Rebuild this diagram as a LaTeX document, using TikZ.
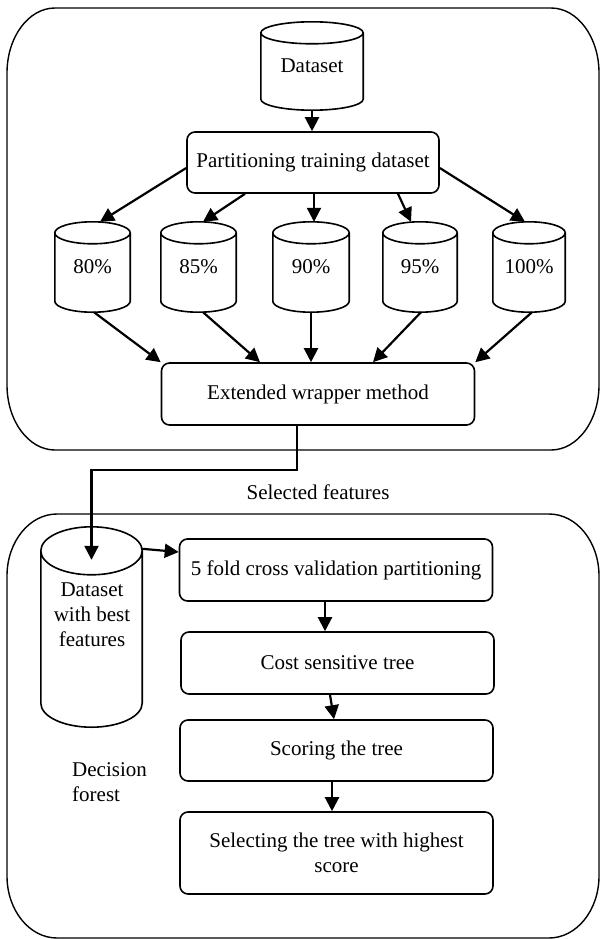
\documentclass[tikz,border=0pt]{standalone}
\usepackage{fontspec}
\setmainfont{Liberation Serif}
\usetikzlibrary{calc,arrows.meta}
\newcommand\cylshape[2]{%
  \draw[cylline] let \p1=(#1.north west), \p2=(#1.south east), \n1={(\x2-\x1)/2} in
   (\x1,\y1-#2pt) -- (\x1,\y2+#2pt)
   arc[start angle=180,end angle=360,x radius=\n1,y radius=#2pt]
   -- (\x2,\y1-#2pt)
   arc[start angle=0,end angle=180,x radius=\n1,y radius=#2pt]
   arc[start angle=180,end angle=360,x radius=\n1,y radius=#2pt];}
\begin{document}
\begin{tikzpicture}[x=1pt,y=-1pt,
  every node/.style={font=\fontsize{21}{25}\selectfont},
  box/.style={draw,line width=1.6pt,rounded corners=8pt,minimum width=313pt,minimum height=62pt,inner sep=0pt,align=center},
  cylnode/.style={inner sep=0pt,minimum width=74pt,minimum height=90pt},
  cylline/.style={line width=1.6pt},
  arr/.style={line width=2.2pt,-{Triangle[length=14pt,width=14pt]}},
  frame/.style={line width=1.4pt}]
\useasboundingbox (0,0) rectangle (600,939);

% containers
\draw[frame] (55,8) -- (551,8)
  arc[start angle=90,end angle=0,x radius=48pt,y radius=65pt] -- (599,385)
  arc[start angle=0,end angle=-90,x radius=48pt,y radius=65pt] -- (55,450)
  arc[start angle=270,end angle=180,x radius=48pt,y radius=65pt] -- (7,73)
  arc[start angle=180,end angle=90,x radius=48pt,y radius=65pt] -- cycle;
\draw[frame] (57,514) -- (549,514)
  arc[start angle=90,end angle=0,x radius=50pt,y radius=62pt] -- (599,876)
  arc[start angle=0,end angle=-90,x radius=50pt,y radius=62pt] -- (57,938)
  arc[start angle=270,end angle=180,x radius=50pt,y radius=62pt] -- (7,576)
  arc[start angle=180,end angle=90,x radius=50pt,y radius=62pt] -- cycle;

% top part
\node[cylnode,minimum width=102pt,minimum height=88pt] (data) at (312,66) {Dataset};
\cylshape{data}{11}
\node[box,minimum width=252pt,minimum height=61pt] (part) at (313,162.5) {Partitioning training dataset};

\node[cylnode,minimum width=75pt] (c80) at (92.5,267) {80\%};
\node[cylnode,minimum width=75pt] (c85) at (198.5,267) {85\%};
\node[cylnode,minimum width=76pt] (c90) at (311,267) {90\%};
\node[cylnode] (c95) at (420,267) {95\%};
\node[cylnode,minimum width=72pt] (c100) at (529,267) {100\%};
\foreach \c in {c80,c85,c90,c95,c100}{\cylshape{\c}{11}}

\node[box] (ext) at (318,394) {Extended wrapper method};

\draw[arr] (data.south) -- (data.south |- part.north);
\draw[arr] ([yshift=-5.5pt]part.west) -- ([xshift=7.5pt]c80.north);
\draw[arr] ([xshift=-68pt]part.south) -- ([xshift=4.5pt]c85.north);
\draw[arr] ([xshift=1pt]part.south) -- ([xshift=1pt]part.south |- c90.north);
\draw[arr] ([xshift=85pt]part.south) -- ([xshift=-9pt]c95.north);
\draw[arr] ([yshift=-5.5pt]part.east) -- ([xshift=-4pt]c100.north);

\draw[arr] ([xshift=1.5pt]c80.south) -- (ext.north west);
\draw[arr] ([xshift=4.5pt]c85.south) -- ([xshift=-58pt]ext.north);
\draw[arr] (c90.south) -- (c90.south |- ext.north);
\draw[arr] ([xshift=1pt]c95.south) -- ([xshift=55pt]ext.north);
\draw[arr] ([xshift=3pt]c100.south) -- (ext.north east);

% bottom part
\node[cylnode,minimum width=101pt,minimum height=200pt] (best) at (91.5,627) {};
\cylshape{best}{24}
\node[align=center,inner sep=0pt] (besttxt) at (92,615) {Dataset\\with best\\features};

\node[inner sep=0pt] (sflabel) at (318,492) {Selected features};
\draw[arr] ([xshift=-21pt]ext.south) -- ++(0,44) -| ($(best.north)+(0,33)$);

\node[box] (fold) at (336,570) {5 fold cross validation partitioning};
\node[box] (cost) at (337.5,663) {Cost sensitive tree};
\node[box,minimum height=61pt] (score) at (336.5,750.5) {Scoring the tree};
\node[box,minimum height=82pt] (select) at (336.5,853) {Selecting the tree with highest\\score};

\node[anchor=west,align=left,inner sep=0pt] (forest) at (72,782) {Decision\\forest};

\draw[arr] ($(best.north east)+(0,22)$) -- ($(fold.west)+(0,-18)$);
\draw[arr] ([xshift=-11pt]fold.south) -- ([xshift=-11pt]fold.south |- cost.north);
\draw[arr] ([xshift=-7.5pt]cost.south) -- ([xshift=-2.5pt]score.north);
\draw[arr] ([xshift=-4.5pt]score.south) -- ([xshift=-4.5pt]score.south |- select.north);
\end{tikzpicture}
\end{document}
